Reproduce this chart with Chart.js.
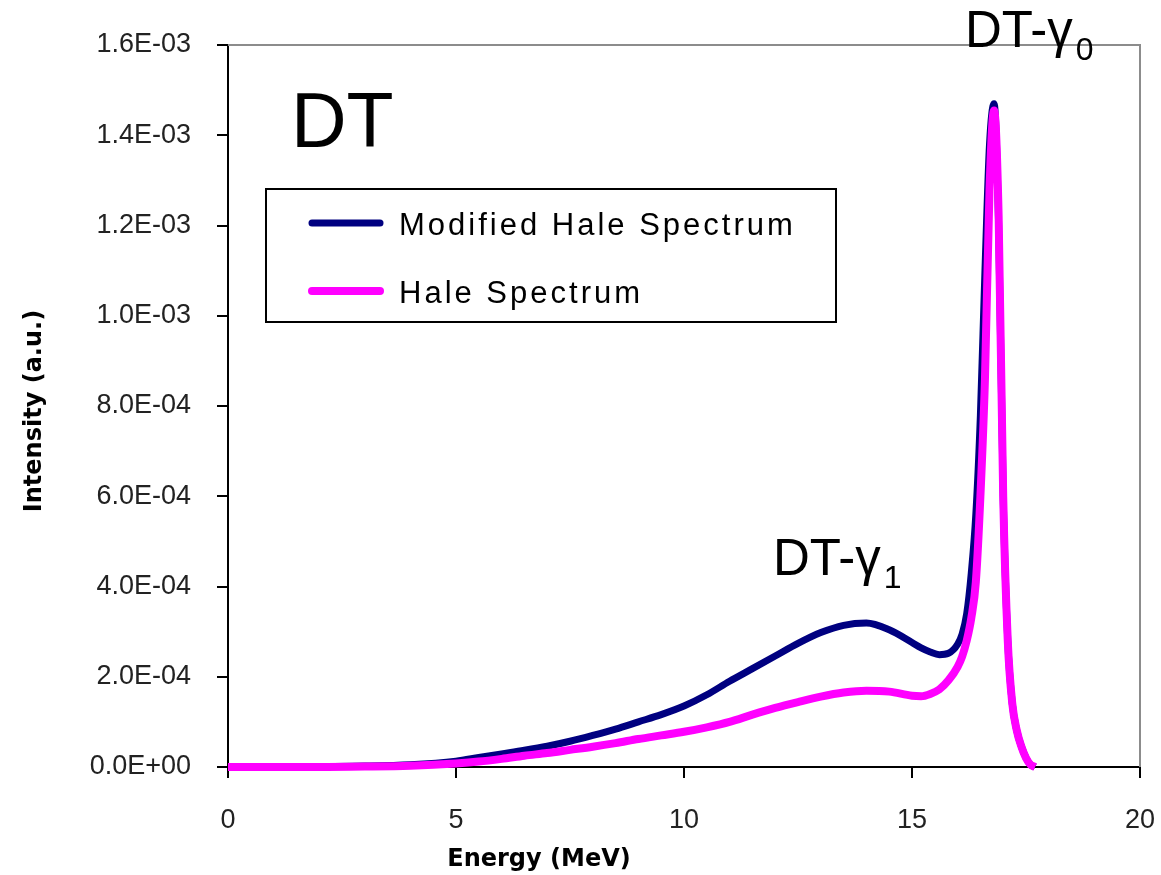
<!DOCTYPE html>
<html>
<head>
<meta charset="utf-8">
<script src="https://cdn.jsdelivr.net/npm/chart.js@4.4.1/dist/chart.umd.min.js"></script>
<style>
  html, body { margin: 0; padding: 0; background: #fff; }
  #wrap { width: 1161px; height: 875px; }
</style>
</head>
<body>
<div id="wrap"><canvas id="chart" width="1161" height="875"></canvas></div>
<script>
// energy grid (MeV) shared by both spectra
const energy = [0, 1, 2, 3, 4, 5, 5.5, 6, 6.5, 7, 7.5, 8, 8.5, 9, 9.5, 10, 10.5, 11, 11.5, 12,
  12.5, 13, 13.5, 14, 14.5, 15, 15.2, 15.4, 15.6, 15.8, 16.0, 16.1, 16.2, 16.3, 16.4, 16.5,
  16.6, 16.7, 16.8, 16.9, 17.0, 17.1, 17.2, 17.3, 17.4, 17.5, 17.6, 17.7]

const modifiedHale = [0, 0, 1e-6, 2e-6, 5e-6, 1.3e-5, 2.1e-5, 2.9e-5, 3.7e-5, 4.6e-5, 5.7e-5, 7.0e-5,
  8.4e-5, 1.0e-4, 1.16e-4, 1.35e-4, 1.60e-4, 1.90e-4, 2.18e-4, 2.46e-4, 2.74e-4, 2.98e-4, 3.14e-4,
  3.19e-4, 3.04e-4, 2.76e-4, 2.64e-4, 2.55e-4, 2.49e-4, 2.52e-4, 2.72e-4, 2.95e-4, 3.40e-4, 4.30e-4,
  5.60e-4, 7.80e-4, 1.10e-3, 1.38e-3, 1.47e-3, 1.20e-3, 6.0e-4, 2.8e-4, 1.4e-4, 8.0e-5, 4.5e-5,
  2.0e-5, 5e-6, 0]

const hale = [0, 0, 0, 1e-6, 3e-6, 8e-6, 1.2e-5, 1.8e-5, 2.5e-5, 3.1e-5, 3.8e-5, 4.5e-5, 5.3e-5,
  6.2e-5, 7.0e-5, 7.8e-5, 8.8e-5, 1.0e-4, 1.16e-4, 1.31e-4, 1.44e-4, 1.56e-4, 1.65e-4, 1.69e-4,
  1.67e-4, 1.58e-4, 1.57e-4, 1.62e-4, 1.72e-4, 1.92e-4, 2.22e-4, 2.45e-4, 2.80e-4, 3.30e-4, 4.10e-4,
  6.0e-4, 8.6e-4, 1.28e-3, 1.455e-3, 1.22e-3, 6.0e-4, 2.8e-4, 1.4e-4, 8.0e-5, 4.5e-5, 2.0e-5, 5e-6, 0]

const seriesNames = ['Modified Hale Spectrum', 'Hale Spectrum']
const seriesColors = ['#000080', '#ff00ff']

const xMin = 0, xMax = 20, xStep = 5
const yMin = 0, yMax = 1.6e-3, yStep = 2e-4

function toPoints(ys) {
    return energy.map((e, i) => ({ x: e, y: ys[i] }))
}

function sci(v) {
    if (Math.abs(v) < 1e-12) return '0.0E+00'
    const parts = v.toExponential(1).split('e')
    const p = parseInt(parts[1], 10)
    return parts[0] + 'E' + (p < 0 ? '-' : '+') + String(Math.abs(p)).padStart(2, '0')
}

const tickFont = { family: '"Liberation Sans", Arial, sans-serif', size: 27 }

// legend, frame, labels drawn on top of the chart
const overlay = {
    id: 'overlay',
    afterDraw(chart) {
        const ctx = chart.ctx
        const a = chart.chartArea
        ctx.save()

        // grey frame on top and right
        ctx.strokeStyle = '#8c8c8c'
        ctx.lineWidth = 2
        ctx.beginPath()
        ctx.moveTo(a.left, a.top)
        ctx.lineTo(a.right, a.top)
        ctx.lineTo(a.right, a.bottom)
        ctx.stroke()

        // legend
        ctx.strokeStyle = '#000'
        ctx.lineWidth = 2
        ctx.strokeRect(266, 189, 570, 133)
        ctx.font = '31px "Liberation Sans", Arial, sans-serif'
        ctx.letterSpacing = '3px'
        ctx.textBaseline = 'alphabetic'
        ctx.textAlign = 'left'
        chart.data.datasets.forEach((ds, i) => {
            const y = 223 + i * 68
            ctx.strokeStyle = ds.borderColor
            ctx.lineWidth = i === 0 ? 7 : 8
            ctx.lineCap = 'round'
            ctx.beginPath()
            ctx.moveTo(312, y)
            ctx.lineTo(380, y)
            ctx.stroke()
            ctx.fillStyle = '#000'
            ctx.fillText(ds.label, 399, y + 12)
        })
        ctx.letterSpacing = '0px'

        // big DT
        ctx.fillStyle = '#000'
        ctx.font = '77px "Liberation Sans", Arial, sans-serif'
        ctx.fillText('DT', 291, 147)

        // peak labels
        const peakLabel = (x, y, sub) => {
            ctx.font = '51px "Liberation Sans", Arial, sans-serif'
            ctx.textAlign = 'left'
            ctx.fillText('DT-\u03b3', x, y)
            const w = ctx.measureText('DT-\u03b3').width
            ctx.font = '32px "Liberation Sans", Arial, sans-serif'
            ctx.fillText(sub, x + w + 3, y + 13)
        }
        peakLabel(965, 47, '0')
        peakLabel(773, 575, '1')

        // axis titles
        ctx.font = 'bold 24px "DejaVu Sans", Verdana, sans-serif'
        ctx.textAlign = 'center'
        ctx.fillText('Energy (MeV)', 539, 866)
        ctx.translate(41, 411)
        ctx.rotate(-Math.PI / 2)
        ctx.font = 'bold 24px "DejaVu Sans", Verdana, sans-serif'
        ctx.fillText('Intensity (a.u.)', 0, 0)

        ctx.restore()
    }
}

new Chart(document.getElementById('chart'), {
    type: 'line',
    data: {
        datasets: [
            {
                label: seriesNames[0],
                data: toPoints(modifiedHale),
                borderColor: seriesColors[0],
                backgroundColor: seriesColors[0],
                borderWidth: 7,
                pointRadius: 0,
                cubicInterpolationMode: 'monotone',
                order: 1,
                clip: false,
            },
            {
                label: seriesNames[1],
                data: toPoints(hale),
                borderColor: seriesColors[1],
                backgroundColor: seriesColors[1],
                borderWidth: 8,
                pointRadius: 0,
                cubicInterpolationMode: 'monotone',
                order: 0,
                clip: false,
            },
        ],
    },
    options: {
        responsive: false,
        animation: false,
        events: [],
        layout: { padding: { top: 45, right: 21, left: 0, bottom: 0 } },
        plugins: {
            legend: { display: false },
            tooltip: { enabled: false },
        },
        scales: {
            x: {
                type: 'linear',
                min: xMin,
                max: xMax,
                // fixed axis band, no extra side padding from the tick labels
                afterFit: s => { s.height = 108; s.paddingLeft = 0; s.paddingRight = 0 },
                ticks: { stepSize: xStep, font: tickFont, color: '#222', padding: 26, maxRotation: 0 },
                grid: { drawOnChartArea: false, drawTicks: true, tickLength: 11, color: '#000', lineWidth: 2 },
                border: { display: true, color: '#000', width: 2 },
            },
            y: {
                type: 'linear',
                min: yMin,
                max: yMax,
                afterFit: s => { s.width = 228; s.paddingTop = 0; s.paddingBottom = 0 },
                ticks: { stepSize: yStep, font: tickFont, color: '#222', padding: 26, callback: v => sci(v) },
                grid: { drawOnChartArea: false, drawTicks: true, tickLength: 11, color: '#000', lineWidth: 2 },
                border: { display: true, color: '#000', width: 2 },
            },
        },
    },
    plugins: [overlay],
})
</script>
</body>
</html>
